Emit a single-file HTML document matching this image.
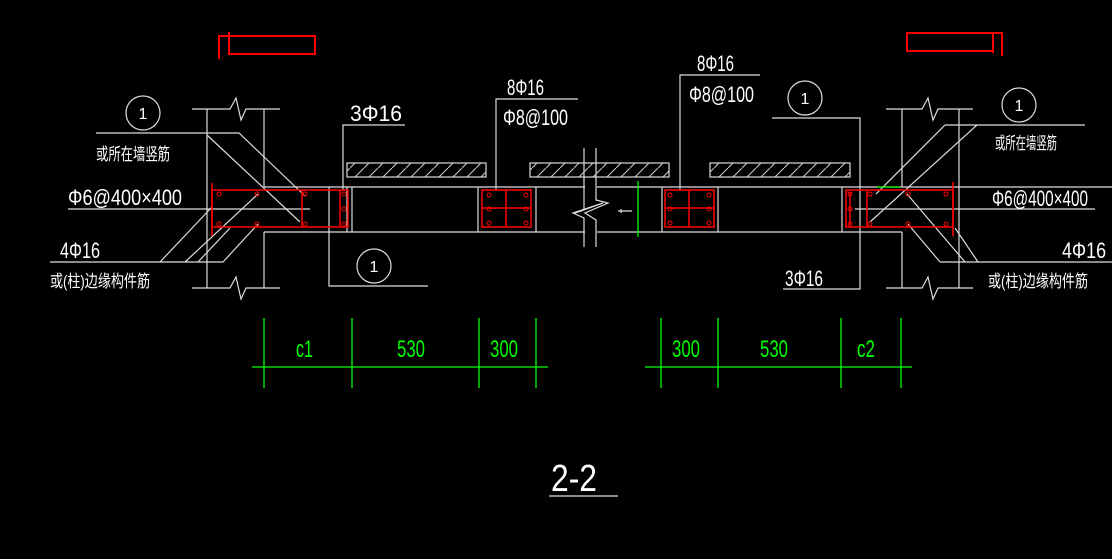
<!DOCTYPE html>
<html><head><meta charset="utf-8"><style>
html,body{margin:0;padding:0;background:#000;}
svg{display:block}
text{font-family:"Liberation Sans Narrow","Liberation Sans","Noto Sans CJK SC",sans-serif;}
</style></head><body>
<svg width="1112" height="559" viewBox="0 0 1112 559" xmlns="http://www.w3.org/2000/svg">
<rect width="1112" height="559" fill="#000"/>
<defs>
<pattern id="h" width="14" height="14" patternUnits="userSpaceOnUse"><path d="M0 14 L14 0" stroke="#ccc" stroke-width="1"/></pattern>
</defs>
<g stroke="#f00" stroke-width="2" fill="none">
<rect x="229" y="36" width="86" height="18"/>
<path d="M219 59 V36 H229 M229 32 V36"/>
<rect x="907" y="33" width="86" height="18"/>
<path d="M993 33 H1002 V56 M993 51 V53"/>
</g>
<g stroke="#ddd" stroke-width="1.2" fill="none">
<path d="M192 109 H230 L236 98 L241 120 L246 109 H280"/>
<path d="M192 288 H230 L236 277 L241 299 L246 288 H280"/>
<path d="M207 109 V288 M264 109 V187 M264 232 V288"/>
<path d="M264 187 H585 M264 232 H585 M597 187 H1112 M597 232 H902"/>
<path d="M329 187 V232 M352 187 V232 M347 187 V232"/>
<path d="M478 187 V232 M536 187 V232 M662 187 V232 M718 187 V232 M842 187 V232"/>
<path d="M886 109 H922 L928 98 L933 120 L938 109 H973"/>
<path d="M886 288 H922 L928 277 L933 299 L938 288 H973"/>
<path d="M902 109 V187 M959 109 V288 M902 232 V288"/>
<path d="M584 148 V210 L575 213 L603 203 L573 213 L584 218 V247 M596 148 V200 L608 203 L585 213 L596 220 V247"/>
<rect x="347" y="163" width="139" height="14" fill="url(#h)"/>
<rect x="530" y="163" width="139" height="14" fill="url(#h)"/>
<rect x="710" y="163" width="140" height="14" fill="url(#h)"/>
<path d="M618 211 H632 M621 209 V213"/>
<path d="M96 133 H239 L305 196 M207 135 L300 222"/>
<path d="M68 209 H310"/>
<path d="M50 262 H223 L258 224 M185 262 L258 194 M160 262 L212 207 M198 262 L230 228"/>
<path d="M343 190 V125 H405"/>
<path d="M329 232 V286 H428"/>
<path d="M496 190 V99 H578"/>
<path d="M680 190 V75 H760"/>
<path d="M772 118 H860 V289 H783"/>
<path d="M945 125 H1085 M945 125 L876 194 M977 125 L870 222"/>
<path d="M855 209 H1095"/>
<path d="M940 262 H1112 M940 262 L908 224 M965 262 L907 194 M978 262 L955 228"/>
<circle cx="143" cy="113" r="17"/>
<circle cx="374" cy="266" r="17"/>
<circle cx="805" cy="98" r="17"/>
<circle cx="1019" cy="105" r="17"/>
<path d="M549 496 H618"/>
</g>
<g fill="#fff" font-size="16" text-anchor="middle">
<text x="143" y="119">1</text><text x="374" y="272">1</text><text x="805" y="104">1</text><text x="1019" y="111">1</text>
</g>
<g stroke="#f00" stroke-width="1.5" fill="none">
<rect x="212" y="190" width="136" height="37"/>
<path d="M212 183 V236 M302 190 V227 M340 190 V227"/>
<rect x="482" y="190" width="49" height="37"/>
<path d="M506 190 V227 M482 208 H531"/>
<rect x="665" y="190" width="49" height="37"/>
<path d="M689 190 V227 M665 208 H714"/>
<rect x="846" y="190" width="107" height="37"/>
<path d="M953 182 V236 M867 190 V227 M850 192 V225"/>
</g>
<g fill="none" stroke="#f00" stroke-width="1">
<circle cx="219" cy="194" r="2"/><circle cx="257" cy="194" r="2"/><circle cx="305" cy="194" r="2"/><circle cx="344" cy="194" r="2"/>
<circle cx="219" cy="224" r="2"/><circle cx="257" cy="224" r="2"/><circle cx="305" cy="224" r="2"/><circle cx="344" cy="224" r="2"/><circle cx="344" cy="209" r="2"/>
<circle cx="489" cy="195" r="2"/><circle cx="526" cy="195" r="2"/><circle cx="489" cy="223" r="2"/><circle cx="526" cy="223" r="2"/><circle cx="489" cy="209" r="2"/><circle cx="526" cy="209" r="2"/>
<circle cx="670" cy="195" r="2"/><circle cx="709" cy="195" r="2"/><circle cx="670" cy="223" r="2"/><circle cx="709" cy="223" r="2"/><circle cx="670" cy="209" r="2"/><circle cx="709" cy="209" r="2"/>
<circle cx="850" cy="194" r="2"/><circle cx="850" cy="224" r="2"/><circle cx="850" cy="209" r="2"/><circle cx="870" cy="194" r="2"/><circle cx="870" cy="224" r="2"/><circle cx="908" cy="194" r="2"/><circle cx="908" cy="224" r="2"/><circle cx="946" cy="194" r="2"/><circle cx="946" cy="224" r="2"/>
</g>
<g stroke="#0f0" stroke-width="1.3" fill="none">
<path d="M638 181 V237 M877 187 H900"/>
<path d="M252 367 H548 M264 318 V388 M352 318 V388 M479 318 V388 M536 318 V388"/>
<path d="M645 367 H912 M661 318 V388 M718 318 V388 M841 318 V388 M901 318 V388"/>
</g>
<g fill="#0f0" font-size="24">
<text x="296" y="357" textLength="17" lengthAdjust="spacingAndGlyphs">c1</text>
<text x="397" y="357" textLength="28" lengthAdjust="spacingAndGlyphs">530</text>
<text x="490" y="357" textLength="28" lengthAdjust="spacingAndGlyphs">300</text>
<text x="672" y="357" textLength="28" lengthAdjust="spacingAndGlyphs">300</text>
<text x="760" y="357" textLength="28" lengthAdjust="spacingAndGlyphs">530</text>
<text x="857" y="357" textLength="18" lengthAdjust="spacingAndGlyphs">c2</text>
</g>
<g fill="#fff" font-size="22">
<text x="350" y="121" textLength="52" lengthAdjust="spacingAndGlyphs">3Φ16</text>
<text x="507" y="95" textLength="37" lengthAdjust="spacingAndGlyphs">8Φ16</text>
<text x="503" y="125" textLength="65" lengthAdjust="spacingAndGlyphs">Φ8@100</text>
<text x="697" y="71" textLength="37" lengthAdjust="spacingAndGlyphs">8Φ16</text>
<text x="689" y="102" textLength="65" lengthAdjust="spacingAndGlyphs">Φ8@100</text>
<text x="68" y="205" textLength="114" lengthAdjust="spacingAndGlyphs">Φ6@400×400</text>
<text x="992" y="206" textLength="96" lengthAdjust="spacingAndGlyphs">Φ6@400×400</text>
<text x="60" y="258" textLength="40" lengthAdjust="spacingAndGlyphs">4Φ16</text>
<text x="1062" y="258" textLength="44" lengthAdjust="spacingAndGlyphs">4Φ16</text>
<text x="785" y="286" textLength="38" lengthAdjust="spacingAndGlyphs">3Φ16</text>
</g>
<g fill="#fff" font-size="17">
<text x="96" y="160" textLength="74" lengthAdjust="spacingAndGlyphs">或所在墙竖筋</text>
<text x="50" y="287" textLength="100" lengthAdjust="spacingAndGlyphs">或(柱)边缘构件筋</text>
<text x="995" y="149" textLength="62" lengthAdjust="spacingAndGlyphs">或所在墙竖筋</text>
<text x="988" y="287" textLength="100" lengthAdjust="spacingAndGlyphs">或(柱)边缘构件筋</text>
</g>
<text x="551" y="491" fill="#fff" font-size="38" textLength="46" lengthAdjust="spacingAndGlyphs">2-2</text>
</svg>
</body></html>
